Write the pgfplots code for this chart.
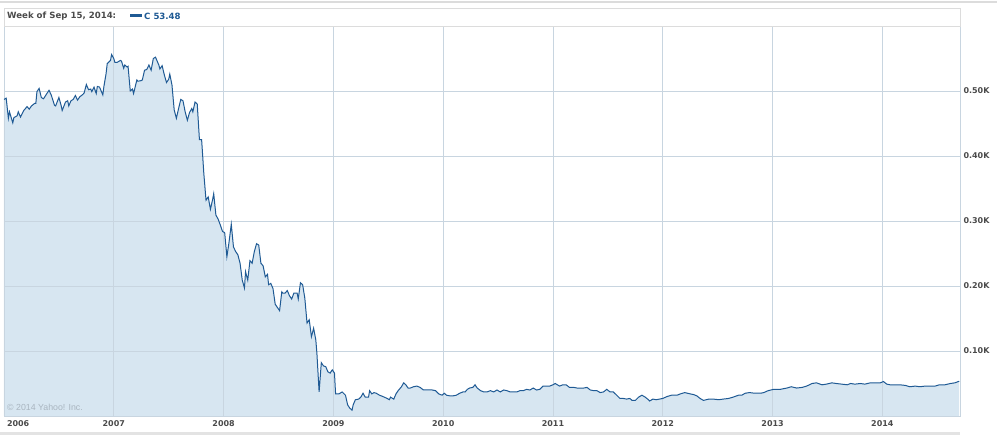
\documentclass[border=0pt]{standalone}
\usepackage{pgfplots}
\pgfplotsset{compat=1.18}
\usepackage{pgfplotstable}
\usepackage{fontspec}
\setmainfont{DejaVu Sans}
\newfontfamily\arialfont{Liberation Sans}

\definecolor{cline}{HTML}{1F5A94}
\definecolor{cfill}{HTML}{D7E6F1}
\definecolor{cgrid}{HTML}{C8D5E0}
\definecolor{cbox}{HTML}{DCDCDC}
\definecolor{ctext}{HTML}{4A4A4A}
\definecolor{ccopy}{HTML}{A9B5C0}

% weekly close of C, split adjusted
\pgfplotstableread{
year price
2006.00 487
2006.02 489
2006.04 458
2006.05 468
2006.08 451
2006.09 459
2006.12 462
2006.13 468
2006.15 460
2006.18 470
2006.21 476
2006.23 472
2006.25 477
2006.28 481
2006.29 481
2006.30 499
2006.32 504
2006.34 490
2006.36 488
2006.39 496
2006.41 501
2006.43 494
2006.46 478
2006.47 477
2006.50 490
2006.52 478
2006.53 470
2006.56 483
2006.58 485
2006.59 477
2006.61 485
2006.63 487
2006.65 493
2006.67 486
2006.69 491
2006.72 495
2006.73 497
2006.75 510
2006.77 502
2006.79 503
2006.80 499
2006.82 506
2006.84 496
2006.85 507
2006.87 506
2006.90 494
2006.91 507
2006.93 527
2006.94 542
2006.97 547
2006.98 556
2007.00 550
2007.01 544
2007.03 544
2007.06 547
2007.07 546
2007.09 535
2007.10 540
2007.12 537
2007.13 538
2007.15 500
2007.17 503
2007.18 496
2007.21 517
2007.22 515
2007.25 516
2007.26 517
2007.28 532
2007.30 533
2007.32 540
2007.34 532
2007.36 550
2007.38 552
2007.39 548
2007.41 540
2007.42 534
2007.44 539
2007.46 525
2007.48 513
2007.50 518
2007.51 526
2007.53 509
2007.55 471
2007.57 458
2007.59 473
2007.61 487
2007.63 485
2007.65 468
2007.67 455
2007.69 467
2007.71 473
2007.72 468
2007.74 483
2007.76 480
2007.78 425
2007.80 425
2007.82 373
2007.84 332
2007.86 337
2007.88 318
2007.90 333
2007.91 342
2007.93 309
2007.95 303
2007.97 294
2007.99 284
2008.01 282
2008.03 245
2008.05 268
2008.07 295
2008.09 260
2008.11 253
2008.13 248
2008.15 235
2008.17 209
2008.19 197
2008.20 222
2008.22 209
2008.24 239
2008.26 235
2008.28 253
2008.30 265
2008.32 263
2008.34 235
2008.36 231
2008.38 214
2008.40 218
2008.41 202
2008.43 204
2008.45 196
2008.47 172
2008.49 167
2008.51 162
2008.53 191
2008.54 189
2008.56 189
2008.58 193
2008.60 185
2008.62 180
2008.64 189
2008.67 189
2008.68 180
2008.70 205
2008.72 202
2008.74 181
2008.76 143
2008.78 148
2008.80 122
2008.82 135
2008.84 117
2008.85 96
2008.87 37
2008.89 82
2008.91 77
2008.93 76
2008.95 68
2008.97 66
2008.99 71
2009.01 66
2009.02 34
2009.05 34
2009.08 37
2009.11 32
2009.13 17
2009.15 12
2009.17 9
2009.18 17
2009.20 25
2009.23 26
2009.25 29
2009.27 35
2009.29 29
2009.32 29
2009.33 39
2009.35 34
2009.37 36
2009.39 35
2009.42 32
2009.45 30
2009.49 27
2009.51 25
2009.52 29
2009.55 26
2009.57 34
2009.59 39
2009.62 45
2009.64 51
2009.66 48
2009.68 43
2009.70 43
2009.73 45
2009.76 46
2009.79 44
2009.82 40
2009.85 40
2009.90 40
2009.93 39
2009.96 34
2009.99 32
2010.01 35
2010.03 32
2010.06 31
2010.09 31
2010.12 32
2010.15 35
2010.18 37
2010.20 37
2010.22 41
2010.24 43
2010.27 44
2010.29 48
2010.31 43
2010.34 39
2010.37 37
2010.40 37
2010.43 39
2010.46 37
2010.49 40
2010.52 37
2010.55 40
2010.58 39
2010.61 37
2010.64 37
2010.67 37
2010.70 39
2010.73 39
2010.76 41
2010.79 40
2010.82 43
2010.85 40
2010.88 41
2010.91 46
2010.94 46
2010.97 46
2011.00 48
2011.02 50
2011.04 48
2011.06 46
2011.09 48
2011.12 48
2011.15 44
2011.19 44
2011.22 43
2011.25 43
2011.28 43
2011.31 44
2011.34 40
2011.37 39
2011.40 39
2011.43 36
2011.46 37
2011.49 41
2011.52 37
2011.55 37
2011.58 32
2011.61 27
2011.64 27
2011.67 26
2011.70 27
2011.72 24
2011.75 24
2011.78 29
2011.81 32
2011.84 29
2011.87 25
2011.88 23
2011.91 26
2011.94 25
2011.97 26
2012.00 27
2012.04 30
2012.08 32
2012.13 32
2012.16 34
2012.20 36
2012.25 34
2012.28 33
2012.31 31
2012.34 27
2012.37 24
2012.42 26
2012.46 26
2012.51 25
2012.55 26
2012.60 27
2012.64 29
2012.69 32
2012.72 32
2012.75 35
2012.79 36
2012.84 35
2012.89 35
2012.92 36
2012.96 39
2013.01 41
2013.07 41
2013.13 43
2013.17 45
2013.22 43
2013.27 44
2013.31 46
2013.36 50
2013.40 51
2013.45 48
2013.49 49
2013.54 51
2013.58 50
2013.63 49
2013.68 48
2013.71 50
2013.75 49
2013.80 50
2013.84 49
2013.89 51
2013.93 51
2013.98 51
2014.01 53
2014.04 49
2014.07 48
2014.11 48
2014.16 48
2014.21 47
2014.25 45
2014.30 46
2014.34 45
2014.39 46
2014.43 46
2014.48 46
2014.52 48
2014.57 48
2014.62 50
2014.66 51
2014.70 53.48
}\citidata

\begin{document}
\begin{tikzpicture}[x=1pt,y=1pt]
\begin{axis}[
  set layers,
  at={(0,0)}, anchor=south west,
  scale only axis,
  width=956pt, height=390pt,
  xmin=2006, xmax=2014.707,
  ymin=0, ymax=600,
  xtick={2007,2008,2009,2010,2011,2012,2013,2014},
  xticklabels={2007,2008,2009,2010,2011,2012,2013,2014},
  extra x ticks={2006},
  extra x tick labels={2006},
  extra x tick style={xticklabel style={anchor=north west, xshift=-0.5pt}},
  ytick={100,200,300,400,500},
  yticklabels={0.10K,0.20K,0.30K,0.40K,0.50K},
  yticklabel pos=right,
  major tick length=0pt,
  xmajorgrids, ymajorgrids,
  grid style={cgrid, line width=0.9pt},
  axis line style={cgrid, line width=0.9pt},
  xticklabel style={font=\bfseries\fontsize{8}{9}\selectfont, text=ctext, yshift=-1.5pt},
  yticklabel style={font=\bfseries\fontsize{8}{9}\selectfont, text=ctext, anchor=west, xshift=0pt},
]
\addplot[on layer=axis background, fill=cfill, draw=none] table[x=year, y=price] {\citidata} \closedcycle;
\addplot[cline, line width=1pt, mark=none] table[x=year, y=price] {\citidata};
\node[anchor=base west, inner sep=0pt, text=ccopy, font=\arialfont\fontsize{8.8}{10}\selectfont] at (rel axis cs:0,0) [xshift=3pt, yshift=5pt] {© 2014 Yahoo! Inc.};
\end{axis}
% header strip, top rule and bottom band of the widget
\draw[cbox, line width=1.5pt] (-4,414) -- (993,414);
\draw[cbox, line width=0.9pt] (0,390) rectangle (956,408);
\fill[cbox!80] (-4,-19) rectangle (956,-16);
\node[anchor=west, inner sep=0pt, text=ctext, font=\bfseries\fontsize{8.6}{10}\selectfont] at (3,399.5) {Week of Sep 15, 2014:};
\fill[cline] (126,399.2) rectangle (138,401.6);
\node[anchor=west, inner sep=0pt, text=cline, font=\bfseries\fontsize{8.6}{10}\selectfont] at (140,399.5) {C 53.48};
\pgfresetboundingbox
\path[use as bounding box] (-4,-19) rectangle (993,416);
\end{tikzpicture}
\end{document}
